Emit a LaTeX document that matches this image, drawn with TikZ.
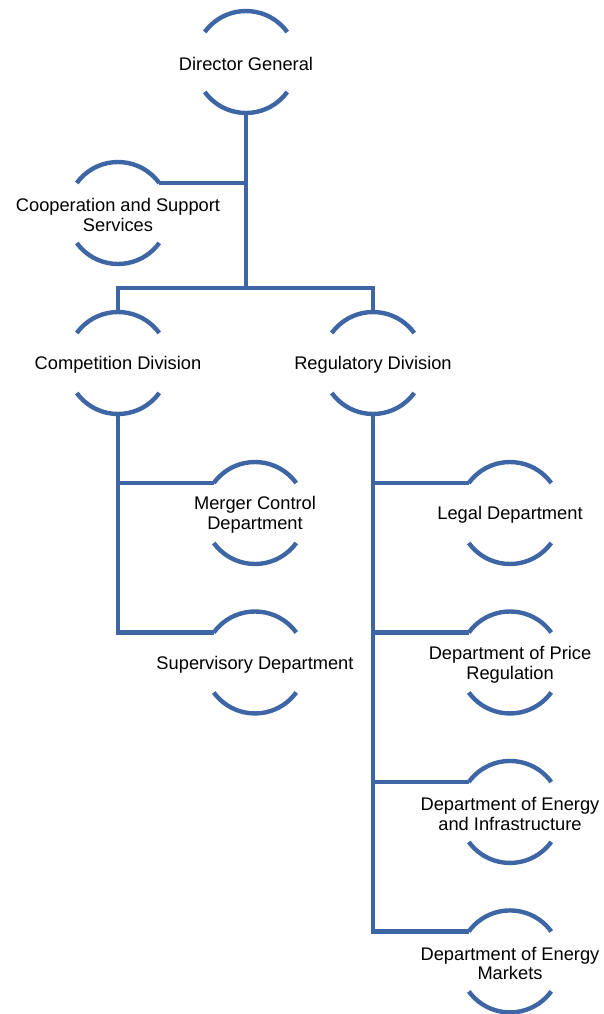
\documentclass[tikz,border=0pt]{standalone}
\usepackage{fontspec}
\setmainfont{Liberation Sans}
\usetikzlibrary{positioning}

\definecolor{orgblue}{RGB}{62,102,164}

\begin{document}
\begin{tikzpicture}[
        x=0.02cm, y=-0.02cm,
        node distance=2.99cm,
        ring/.style={circle, minimum size=2.04cm, inner sep=0pt, outer sep=0pt,
                     draw=orgblue, line width=2.5pt,
                     dash pattern=on 54.7pt off 36.47pt, dash phase=72.94pt},
        unit/.style={align=center, inner sep=0pt, yshift=-1.2pt,
                     font=\fontsize{10.4}{11.3}\selectfont},
        link/.style={draw=orgblue, line width=2.5pt},
      ]
        \useasboundingbox (0,0) rectangle (603,1014);

        % rings
        \node[ring] (dg)     at (246,62)  {};
        \node[ring] (coop)   at (118,213) {};
        \node[ring] (comp)   at (118,363) {};
        \node[ring] (reg)    at (373,363) {};
        \node[ring] (merger) at (255,513) {};
        \node[ring] (sup)    [below of=merger] {};
        \node[ring] (legal)  at (510,513) {};
        \node[ring] (price)  [below of=legal] {};
        \node[ring] (infra)  [below of=price] {};
        \node[ring] (mkts)   [below of=infra] {};

        % texts
        \node[unit] (dg-t)     at (dg)     {Director General};
        \node[unit] (coop-t)   at (coop)   {Cooperation and Support\\Services};
        \node[unit] (comp-t)   at (comp)   {Competition Division};
        \node[unit] (reg-t)    at (reg)    {Regulatory Division};
        \node[unit] (merger-t) at (merger) {Merger Control\\Department};
        \node[unit] (sup-t)    at (sup)    {Supervisory Department};
        \node[unit] (legal-t)  at (legal)  {Legal Department};
        \node[unit] (price-t)  at (price)  {Department of Price\\Regulation};
        \node[unit] (infra-t)  at (infra)  {Department of Energy\\and Infrastructure};
        \node[unit] (mkts-t)   at (mkts)   {Department of Energy\\Markets};

        % connectors
        \coordinate (bar) at (246,288);
        \draw[link] (dg.south) -- (bar);
        \draw[link] (coop.36) -- (coop.36 -| dg.south);
        \draw[link] (comp.north) -- (comp.north |- bar) -- (reg.north |- bar) -- (reg.north);

        \draw[link] (comp.south) |- (sup.144);
        \draw[link] (merger.144) -- (merger.144 -| comp.south);

        \draw[link] (reg.south) |- (mkts.144);
        \draw[link] (legal.144) -- (legal.144 -| reg.south);
        \draw[link] (price.144) -- (price.144 -| reg.south);
        \draw[link] (infra.144) -- (infra.144 -| reg.south);
      \end{tikzpicture}
\end{document}
